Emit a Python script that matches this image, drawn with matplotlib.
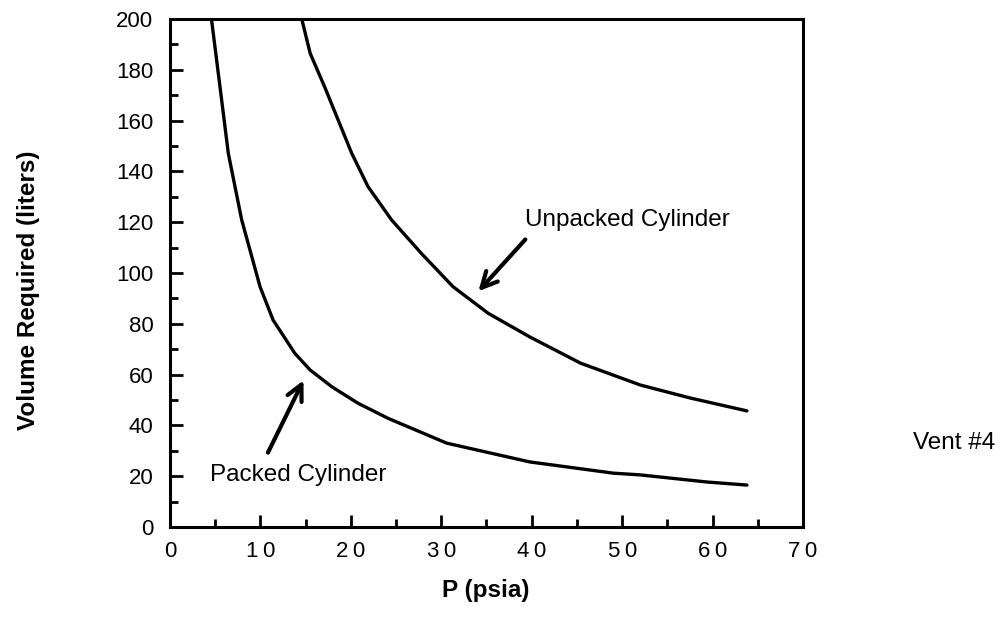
import matplotlib
matplotlib.use("Agg")
import matplotlib.pyplot as plt
from matplotlib.ticker import MultipleLocator, FuncFormatter

plt.rcParams['font.family'] = ['Liberation Sans', 'DejaVu Sans']

# values
packed_p = [4.6, 5.53, 6.45, 7.93, 9.96, 11.4, 13.8, 15.5, 17.9, 20.8, 24.1, 30.6, 39.8, 49.0, 52.0, 59.4, 63.8]
packed_v = [199.6, 173.3, 147.1, 120.9, 94.6, 81.5, 68.4, 61.8, 55.2, 48.7, 42.8, 33.0, 25.6, 21.2, 20.5, 17.7, 16.5]
unpacked_p = [14.6, 15.5, 17.1, 18.6, 20.1, 21.9, 24.5, 27.8, 31.3, 35.2, 39.8, 45.4, 52.0, 57.5, 63.8]
unpacked_v = [199.6, 186.5, 173.3, 160.2, 147.1, 134.0, 120.9, 107.7, 94.6, 84.1, 74.8, 64.5, 55.9, 50.8, 45.7]

x_ticks = [0, 10, 20, 30, 40, 50, 60, 70]
y_ticks = [0, 20, 40, 60, 80, 100, 120, 140, 160, 180, 200]

fig = plt.figure(figsize=(10.04, 6.33), dpi=100)
ax = fig.add_axes([0.1693, 0.1675, 0.6305, 0.8025])

ax.plot(packed_p, packed_v, color='black', lw=2.4, solid_capstyle='round', solid_joinstyle='round')
ax.plot(unpacked_p, unpacked_v, color='black', lw=2.4, solid_capstyle='round', solid_joinstyle='round')

ax.set_xlim(0, 70)
ax.set_ylim(0, 200)
ax.set_xticks(x_ticks)
ax.set_yticks(y_ticks)
ax.xaxis.set_minor_locator(MultipleLocator(5))
ax.yaxis.set_minor_locator(MultipleLocator(10))
# spaced-out digits on the x axis, like the original
ax.xaxis.set_major_formatter(FuncFormatter(lambda v, pos: "\u2009".join(str(int(v)))))

for s in ax.spines.values():
    s.set_linewidth(2.2)
ax.tick_params(which='both', direction='in', top=False, right=False, width=2, labelsize=16)
ax.tick_params(which='major', length=9)
ax.tick_params(which='minor', length=6)
ax.tick_params(axis='y', pad=12)
ax.tick_params(axis='x', pad=10)

arrow = dict(arrowstyle='->', color='black', lw=3, mutation_scale=28)
ax.annotate('', xy=(33.9, 92), xytext=(39.5, 114), arrowprops=arrow)
ax.annotate('', xy=(14.9, 58.7), xytext=(10.7, 28.3), arrowprops=arrow)
ax.text(39.3, 121, 'Unpacked Cylinder', fontsize=17.5, ha='left', va='center')
ax.text(4.4, 20.5, 'Packed Cylinder', fontsize=17.5, ha='left', va='center')

fig.text(486 / 1004, 1 - 590 / 633, 'P (psia)', fontsize=17.5, fontweight='bold',
         ha='center', va='center')
fig.text(29 / 1004, 1 - 290 / 633, 'Volume Required (liters)', fontsize=17.5,
         fontweight='bold', rotation=90, ha='center', va='center')
fig.text(913 / 1004, 1 - 443 / 633, 'Vent #4', fontsize=17.5, ha='left', va='center')

fig.savefig('out.png', dpi=100)
